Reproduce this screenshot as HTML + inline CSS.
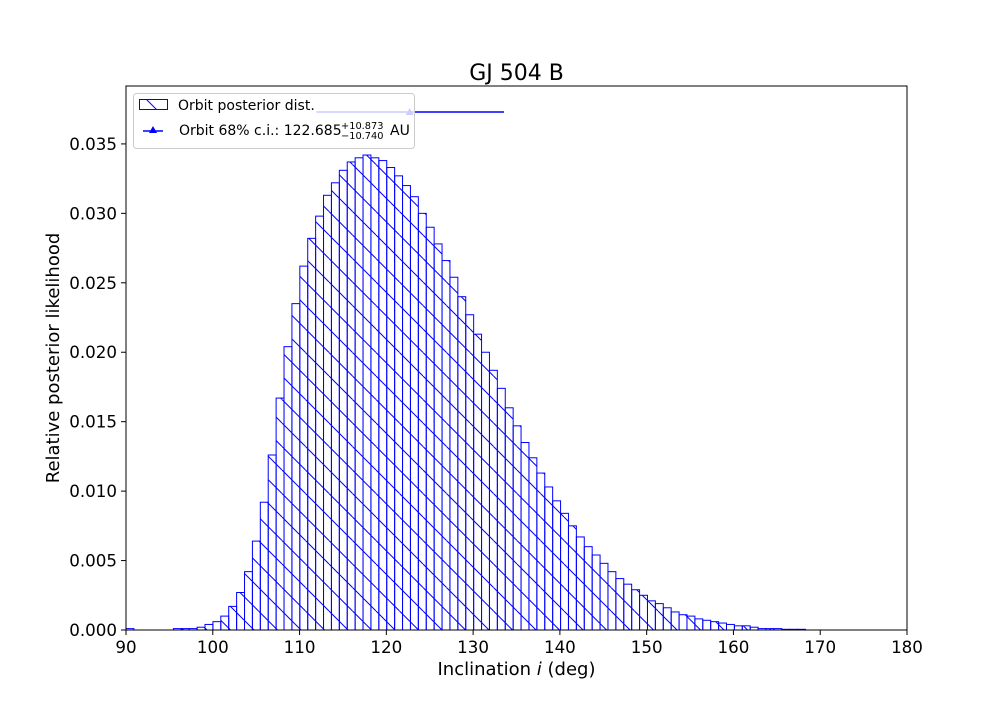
<!DOCTYPE html>
<html><head><meta charset="utf-8"><style>
body{margin:0;background:#fff;}
svg text{font-family:"DejaVu Sans","Liberation Sans",sans-serif;}
</style></head><body>
<svg id="chart" width="1008" height="720" xmlns="http://www.w3.org/2000/svg">
<defs>
<pattern id="hatch" patternUnits="userSpaceOnUse" width="23.5" height="23.5">
<line x1="0" y1="0" x2="23.5" y2="23.5" stroke="#0000ff" stroke-width="1"/>
<line x1="-23.5" y1="0" x2="0" y2="23.5" stroke="#0000ff" stroke-width="1"/>
<line x1="23.5" y1="0" x2="47" y2="23.5" stroke="#0000ff" stroke-width="1"/>
</pattern>
</defs>
<rect width="1008" height="720" fill="#fff"/>
<g id="bars"></g>
<line id="eline" stroke="#0000ff" stroke-width="1.5"/>
<path id="emark" fill="#0000ff"/>
<rect x="126" y="86" width="781" height="544" fill="none" stroke="#000" stroke-width="1"/>
<g id="xt"></g>
<g id="yt"></g>
<text x="516.5" y="80" font-size="22" text-anchor="middle">GJ 504 B</text>
<text x="516.5" y="675" font-size="18" text-anchor="middle">Inclination <tspan font-style="italic">i</tspan> (deg)</text>
<text x="0" y="0" font-size="18" text-anchor="middle" transform="translate(59,358) rotate(-90)">Relative posterior likelihood</text>
<g>
<rect x="133.5" y="93.5" width="281" height="55" rx="3" fill="#fff" fill-opacity="0.8" stroke="#ccc"/>
<rect x="139.5" y="99.5" width="28" height="10" fill="url(#hatch)" stroke="#0000ff"/>
<text x="178" y="110" font-size="14">Orbit posterior dist.</text>
<line x1="143" y1="131" x2="163" y2="131" stroke="#0000ff" stroke-width="1.5"/>
<path d="M153 126 L157 133 L149 133 Z" fill="#0000ff"/>
<text x="179" y="135" font-size="14">Orbit 68% c.i.: 122.685</text>
<text x="341" y="129" font-size="9.8">+10.873</text>
<text x="341" y="139" font-size="9.8">−10.740</text>
<text x="390" y="135" font-size="14">AU</text>
</g>
</svg>
<script>
const binStart = 90.0;
const binWidth = 0.9105;
const counts = [0.0001,0,0,0,0,0,0.0001,0.0001,0.0001,0.0002,0.0004,0.0006,0.0010,0.0017,0.0027,0.0042,0.0064,0.0092,0.0126,0.0167,0.0204,0.0235,0.0262,0.0282,0.0298,0.0313,0.0322,0.0331,0.0337,0.0340,0.0342,0.0340,0.0338,0.0333,0.0327,0.0320,0.0312,0.0300,0.0290,0.0278,0.0266,0.0254,0.0240,0.0227,0.0213,0.0200,0.0187,0.0174,0.0160,0.0147,0.0135,0.0124,0.0113,0.0103,0.0093,0.0084,0.0075,0.0067,0.0060,0.0054,0.0048,0.0042,0.0037,0.0033,0.0029,0.0025,0.0021,0.0019,0.0016,0.0013,0.0011,0.0010,0.0008,0.0007,0.0006,0.0005,0.0004,0.0003,0.0003,0.0002,0.0001,0.0001,0.0001,0.00005,0.00005,0.00005];
const xTicks = [90,100,110,120,130,140,150,160,170,180];
const yTicks = [0,0.005,0.010,0.015,0.020,0.025,0.030,0.035];
const ciCenter = 122.685, ciPlus = 10.873, ciMinus = 10.740, ciY = 0.0373;
const X0=126,X1=907,Y0=630,Y1=86,xmin=90,xmax=180,ymin=0,ymax=0.03917;
const sx=v=>X0+(v-xmin)/(xmax-xmin)*(X1-X0);
const sy=v=>Y0-(v-ymin)/(ymax-ymin)*(Y0-Y1);
const NS='http://www.w3.org/2000/svg';
const bars=document.getElementById('bars');
counts.forEach((c,i)=>{
  if(c<=0) return;
  const r=document.createElementNS(NS,'rect');
  const a=sx(binStart+i*binWidth), b=sx(binStart+(i+1)*binWidth);
  r.setAttribute('x',a);r.setAttribute('width',b-a);
  r.setAttribute('y',sy(c));r.setAttribute('height',sy(0)-sy(c));
  r.setAttribute('fill','url(#hatch)');r.setAttribute('stroke','#0000ff');r.setAttribute('stroke-width','1');
  
  
  bars.appendChild(r);
});
const el=document.getElementById('eline');
el.setAttribute('x1',sx(ciCenter-ciMinus));el.setAttribute('x2',sx(ciCenter+ciPlus));
el.setAttribute('y1',sy(ciY));el.setAttribute('y2',sy(ciY));
const mx=sx(ciCenter),my=sy(ciY);
document.getElementById('emark').setAttribute('d',`M${mx} ${my-4} L${mx+4} ${my+3} L${mx-4} ${my+3} Z`);
const xt=document.getElementById('xt');
xTicks.forEach(t=>{
  const x=sx(t);
  const l=document.createElementNS(NS,'line');
  l.setAttribute('x1',x);l.setAttribute('x2',x);l.setAttribute('y1',630);l.setAttribute('y2',635);l.setAttribute('stroke','#000');
  
  
  xt.appendChild(l);
  const tx=document.createElementNS(NS,'text');
  tx.setAttribute('x',x);tx.setAttribute('y',653);tx.setAttribute('font-size','16.7');tx.setAttribute('text-anchor','middle');
  tx.textContent=t;
  
  
  xt.appendChild(tx);
});
const yt=document.getElementById('yt');
yTicks.forEach(t=>{
  const y=sy(t);
  const l=document.createElementNS(NS,'line');
  l.setAttribute('x1',121);l.setAttribute('x2',126);l.setAttribute('y1',y);l.setAttribute('y2',y);l.setAttribute('stroke','#000');
  
  
  yt.appendChild(l);
  const tx=document.createElementNS(NS,'text');
  tx.setAttribute('x',117);tx.setAttribute('y',y+6);tx.setAttribute('font-size','16.7');tx.setAttribute('text-anchor','end');
  tx.textContent=t.toFixed(3);
  
  
  yt.appendChild(tx);
});
</script>
</body></html>
